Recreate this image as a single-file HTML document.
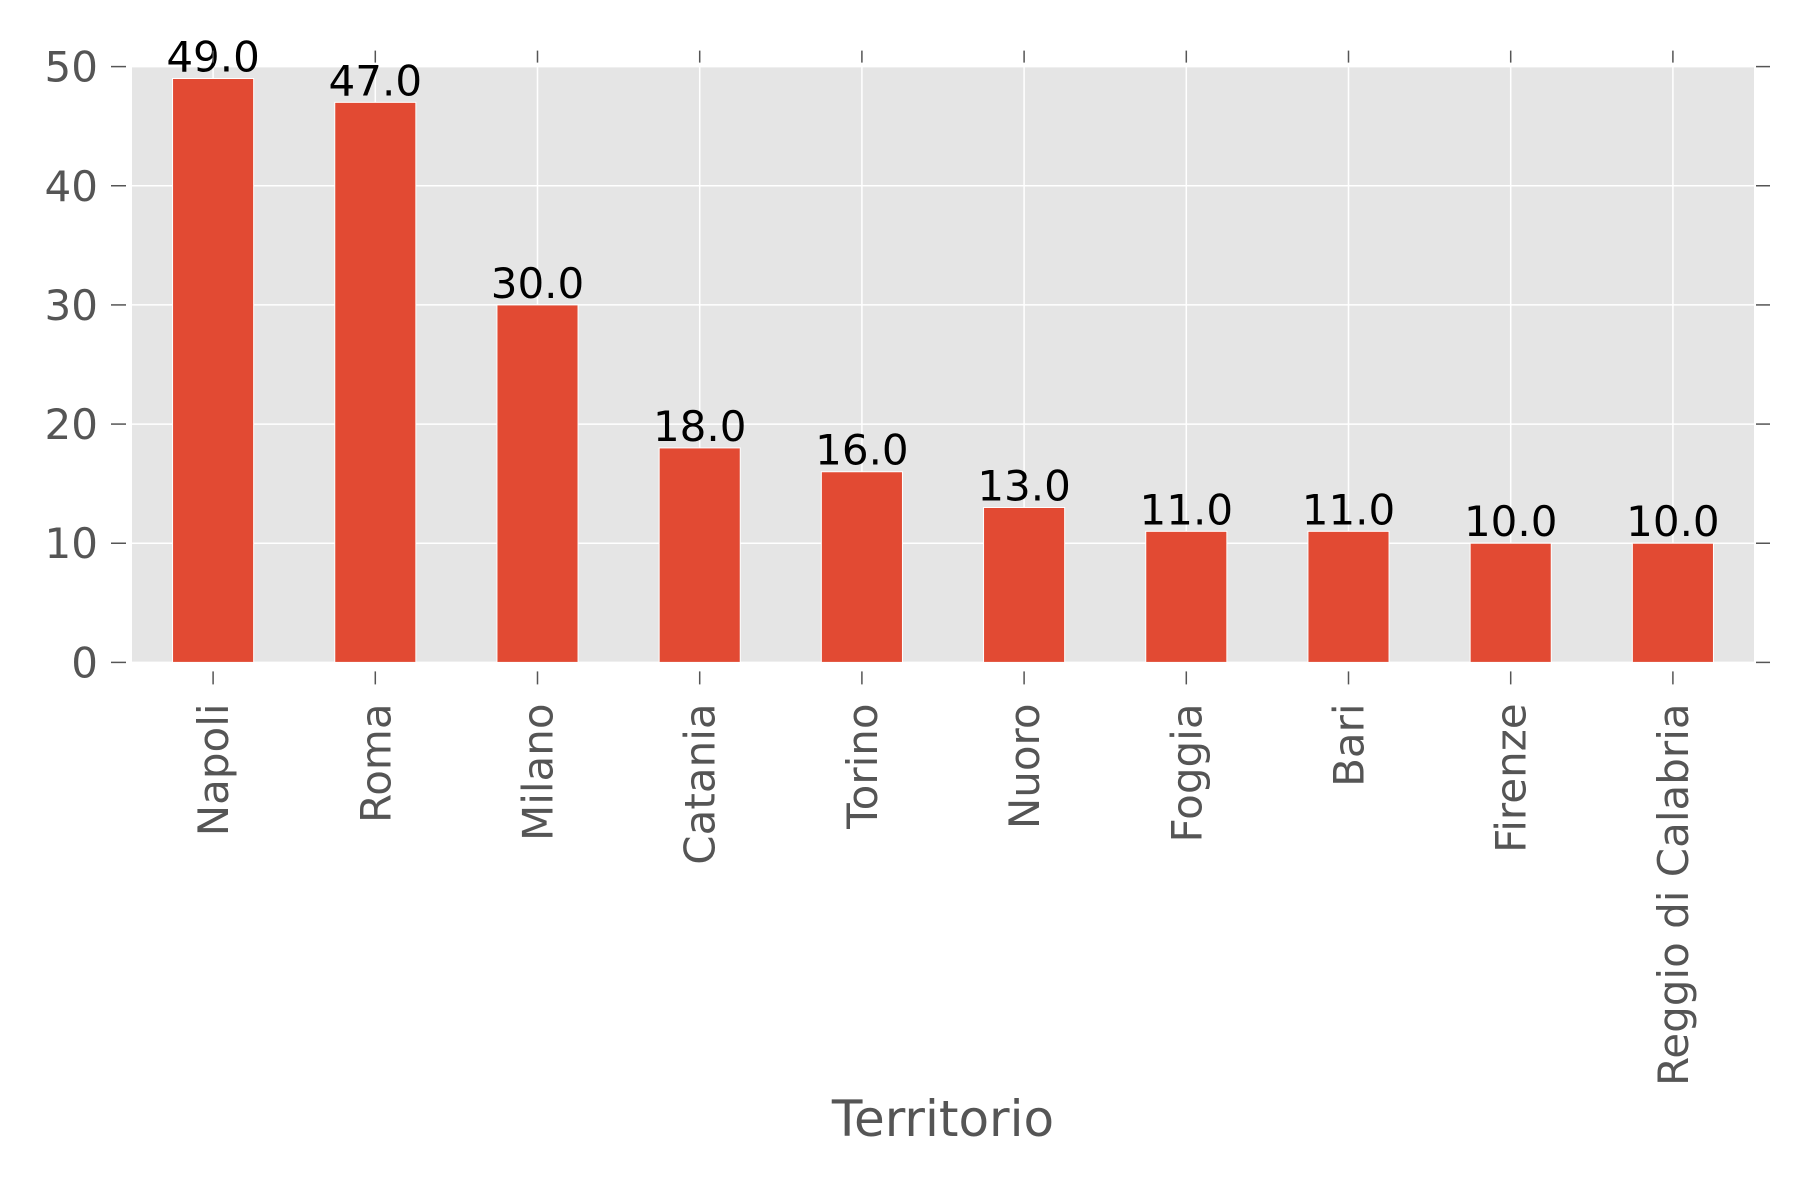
<!DOCTYPE html>
<html><head><meta charset="utf-8"><style>
html,body{margin:0;padding:0;background:#fff;}
svg{display:block;font-family:"DejaVu Sans","Liberation Sans",sans-serif;}
</style></head><body>
<svg id="chart" width="1800" height="1200" viewBox="0 0 1800 1200" xmlns="http://www.w3.org/2000/svg"></svg>
<script>
const categories = ["Napoli","Roma","Milano","Catania","Torino","Nuoro","Foggia","Bari","Firenze","Reggio di Calabria"];
const values = [49,47,30,18,16,13,11,11,10,10];
const yTicks = [0,10,20,30,40,50];

const svg = document.getElementById('chart');
const NS = 'http://www.w3.org/2000/svg';
const L = 132, R = 1754, T = 66.6, B = 662.4;
const yMax = 50;
function yScale(v){ return B - (v / yMax) * (B - T); }
const step = (R - L) / categories.length;
function xCenter(i){ return L + step * (i + 0.5); }
function mk(tag, attrs, parent){
  const e = document.createElementNS(NS, tag);
  for (const k in attrs) e.setAttribute(k, attrs[k]);
  (parent || svg).appendChild(e);
  return e;
}
const bg = mk('rect', {x:L, y:T, width:R-L, height:B-T, fill:'#E5E5E5'});



yTicks.forEach(t => {
  const y = yScale(t);
  const g = mk('line', {x1:L, x2:R, y1:y, y2:y, stroke:'#fff', 'stroke-width':1.5});
  
  
  mk('line', {x1:L-21, x2:L-6, y1:y, y2:y, stroke:'#555', 'stroke-width':1.5});
  mk('line', {x1:R+2, x2:R+16, y1:y, y2:y, stroke:'#555', 'stroke-width':1.5});
  const tl = mk('text', {x:L-34, y:y+15, 'text-anchor':'end', 'font-size':42, fill:'#555'});
  tl.textContent = t;
  
  
});

categories.forEach((c, i) => {
  const x = xCenter(i);
  const g = mk('line', {x1:x, x2:x, y1:T, y2:B, stroke:'#fff', 'stroke-width':1.5});
  
  
});

categories.forEach((c, i) => {
  const x = xCenter(i);
  const w = step * 0.5;
  const y = yScale(values[i]);
  const bar = mk('rect', {x:x-w/2, y:y, width:w, height:B-y, fill:'#E24A33', stroke:'#fff', 'stroke-width':1});
  
  
  const vl = mk('text', {x:x, y:y-7, 'text-anchor':'middle', 'font-size':42, fill:'#000'});
  vl.textContent = values[i].toFixed(1);
  
  
  mk('line', {x1:x, x2:x, y1:B+9, y2:B+22, stroke:'#555', 'stroke-width':1.5});
  mk('line', {x1:x, x2:x, y1:T-16, y2:T-4, stroke:'#555', 'stroke-width':1.5});
  const xl = mk('text', {transform:'translate(' + (x+15) + ',' + (B+41) + ') rotate(-90)', 'text-anchor':'end', 'font-size':42, fill:'#555'});
  xl.textContent = c;
  
  
});

const xt = mk('text', {x:(L+R)/2, y:1136, 'text-anchor':'middle', 'font-size':50, fill:'#555'});
xt.textContent = 'Territorio';


</script>
</body></html>
